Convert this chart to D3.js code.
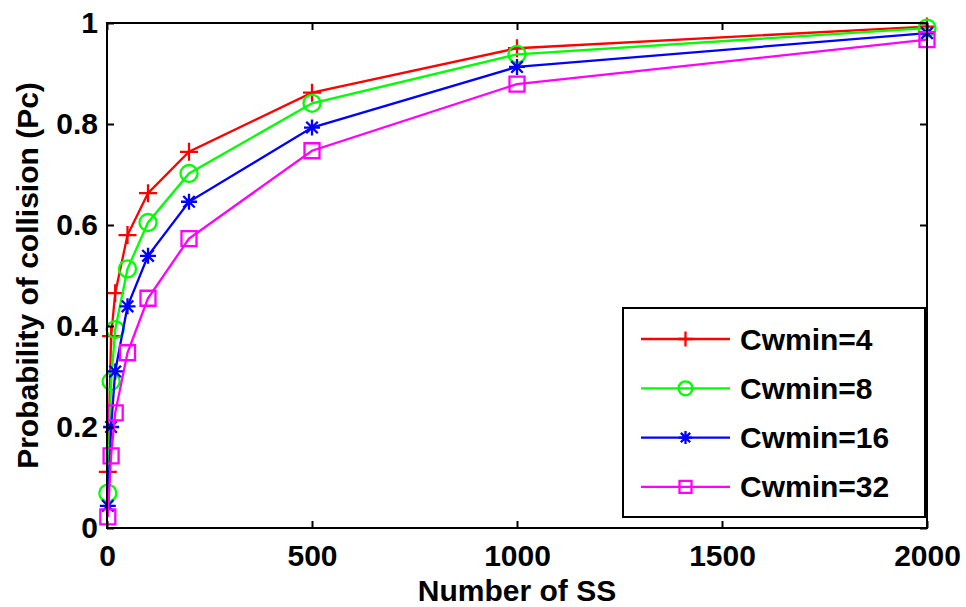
<!DOCTYPE html>
<html>
<head>
<meta charset="utf-8">
<script src="https://cdn.jsdelivr.net/npm/d3@7"></script>
<style>
  html, body { margin: 0; padding: 0; background: #fff; }
  svg { display: block; }
  text { font-family: "Liberation Sans", Arial, Helvetica, sans-serif; font-weight: bold; fill: #000; }
</style>
</head>
<body>
<svg id="chart" width="966" height="607"></svg>
<script>
// Number of subscriber stations on the x axis
const numSS = [2, 10, 20, 50, 100, 200, 500, 1000, 2000];

// Probability of collision for each minimum contention window
const pcCw4  = [0.111, 0.380, 0.465, 0.580, 0.663, 0.745, 0.862, 0.950, 0.993];
const pcCw8  = [0.069, 0.290, 0.393, 0.513, 0.605, 0.702, 0.841, 0.938, 0.990];
const pcCw16 = [0.044, 0.200, 0.310, 0.439, 0.539, 0.646, 0.793, 0.913, 0.980];
const pcCw32 = [0.022, 0.143, 0.228, 0.347, 0.455, 0.573, 0.747, 0.879, 0.967];

const seriesNames = ["Cwmin=4", "Cwmin=8", "Cwmin=16", "Cwmin=32"];
const xTicks = [0, 500, 1000, 1500, 2000];
const yTicks = [0, 0.2, 0.4, 0.6, 0.8, 1];
const xTitle = "Number of SS";
const yTitle = "Probability of collision (Pc)";

const series = [
  { name: seriesNames[0], values: pcCw4,  color: "#ff0000", marker: "plus" },
  { name: seriesNames[1], values: pcCw8,  color: "#00ff00", marker: "circle" },
  { name: seriesNames[2], values: pcCw16, color: "#0000ff", marker: "star" },
  { name: seriesNames[3], values: pcCw32, color: "#ff00ff", marker: "square" }
];

const svg = d3.select("#chart");
const plot = { left: 107, right: 927, top: 23, bottom: 528 };
const tickLen = 7;
const fontSize = 30;
const lineW = 2.3;

const x = d3.scaleLinear().domain([0, 2000]).range([plot.left, plot.right]);
const y = d3.scaleLinear().domain([0, 1]).range([plot.bottom, plot.top]);

// Marker shapes (MATLAB-like: stroked, unfilled)
function markerPath(type, s) {
  const p = d3.path();
  if (type === "plus") {
    p.moveTo(-s, 0); p.lineTo(s, 0);
    p.moveTo(0, -s); p.lineTo(0, s);
  } else if (type === "circle") {
    p.moveTo(s, 0); p.arc(0, 0, s, 0, 2 * Math.PI);
  } else if (type === "square") {
    p.rect(-s, -s, 2 * s, 2 * s);
  } else if (type === "star") {
    const d = s * 0.72;
    p.moveTo(-s, 0); p.lineTo(s, 0);
    p.moveTo(0, -s); p.lineTo(0, s);
    p.moveTo(-d, -d); p.lineTo(d, d);
    p.moveTo(-d, d); p.lineTo(d, -d);
  }
  return p.toString();
}
const markerSize = { plus: 9, circle: 8.5, square: 7.5, star: 8 };

// Data lines and markers
const line = d3.line().x((d, i) => x(numSS[i])).y(d => y(d));
const gData = svg.append("g");
series.forEach(s => {
  gData.append("path")
    .datum(s.values)
    .attr("d", line)
    .attr("fill", "none")
    .attr("stroke", s.color)
    .attr("stroke-width", lineW);
  gData.selectAll(null)
    .data(s.values)
    .join("path")
    .attr("transform", (d, i) => `translate(${x(numSS[i])},${y(d)})`)
    .attr("d", markerPath(s.marker, markerSize[s.marker]))
    .attr("fill", "none")
    .attr("stroke", s.color)
    .attr("stroke-width", lineW);
});

// Axes box with inward ticks on all four sides
const axisStyle = g => {
  g.selectAll(".domain").remove();
  g.selectAll(".tick line").attr("stroke", "#000").attr("stroke-width", 2);
  g.selectAll(".tick text")
    .style("font-size", fontSize + "px")
    .style("font-family", '"Liberation Sans", Arial, sans-serif')
    .style("font-weight", "bold");
};

svg.append("g")
  .attr("transform", `translate(0,${plot.bottom})`)
  .call(d3.axisBottom(x).tickValues(xTicks).tickSizeInner(-tickLen).tickSizeOuter(0).tickPadding(17).tickFormat(d3.format("d")))
  .call(axisStyle);

svg.append("g")
  .attr("transform", `translate(0,${plot.top})`)
  .call(d3.axisTop(x).tickValues(xTicks).tickSizeInner(-tickLen).tickSizeOuter(0).tickFormat(""))
  .call(axisStyle);

svg.append("g")
  .attr("transform", `translate(${plot.left},0)`)
  .call(d3.axisLeft(y).tickValues(yTicks).tickSizeInner(-tickLen).tickSizeOuter(0).tickPadding(9).tickFormat(d => d === 0 || d === 1 ? d3.format("d")(d) : d3.format(".1f")(d)))
  .call(axisStyle);

svg.append("g")
  .attr("transform", `translate(${plot.right},0)`)
  .call(d3.axisRight(y).tickValues(yTicks).tickSizeInner(-tickLen).tickSizeOuter(0).tickFormat(""))
  .call(axisStyle);

svg.append("rect")
  .attr("x", plot.left).attr("y", plot.top)
  .attr("width", plot.right - plot.left).attr("height", plot.bottom - plot.top)
  .attr("fill", "none").attr("stroke", "#000").attr("stroke-width", 2);

// Axis titles
svg.append("text")
  .attr("x", (plot.left + plot.right) / 2)
  .attr("y", 601)
  .attr("text-anchor", "middle")
  .style("font-size", fontSize + "px")
  .text(xTitle);

svg.append("text")
  .attr("transform", `translate(38,${(plot.top + plot.bottom) / 2}) rotate(-90)`)
  .attr("text-anchor", "middle")
  .style("font-size", fontSize + "px")
  .text(yTitle);

// Legend
const legend = { x: 623, y: 308, w: 302, h: 209, rowY0: 339, rowStep: 49.3, lineX0: 641, lineX1: 730, textX: 740 };
const gLeg = svg.append("g");
gLeg.append("rect")
  .attr("x", legend.x).attr("y", legend.y)
  .attr("width", legend.w).attr("height", legend.h)
  .attr("fill", "#fff").attr("stroke", "#000").attr("stroke-width", 2);

series.forEach((s, i) => {
  const ry = legend.rowY0 + i * legend.rowStep;
  gLeg.append("line")
    .attr("x1", legend.lineX0).attr("x2", legend.lineX1)
    .attr("y1", ry).attr("y2", ry)
    .attr("stroke", s.color).attr("stroke-width", lineW);
  gLeg.append("path")
    .attr("transform", `translate(${(legend.lineX0 + legend.lineX1) / 2},${ry})`)
    .attr("d", markerPath(s.marker, markerSize[s.marker] - 1.5))
    .attr("fill", "none").attr("stroke", s.color).attr("stroke-width", lineW);
  gLeg.append("text")
    .attr("x", legend.textX).attr("y", ry)
    .attr("dy", "0.35em")
    .style("font-size", fontSize + "px")
    .text(s.name);
});
</script>
</body>
</html>
